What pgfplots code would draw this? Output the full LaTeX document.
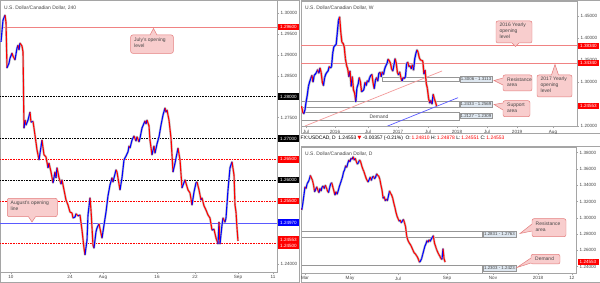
\documentclass[border=0pt]{standalone}
\usepackage{fontspec}
\setmainfont{Liberation Sans}
\newfontfamily\dejavu{DejaVu Sans}
\usepackage{pgfplots}
\usepackage{pgfplotstable}
\pgfplotsset{compat=1.18}
\definecolor{bull}{RGB}{0,0,255}
\definecolor{bear}{RGB}{255,0,0}
\definecolor{frm}{RGB}{165,165,165}
\definecolor{lvlred}{RGB}{240,130,130}
\definecolor{lvlblue}{RGB}{90,90,255}
\definecolor{callfill}{RGB}{248,205,205}
\definecolor{calldraw}{RGB}{228,125,125}
\definecolor{zonefill}{RGB}{222,231,240}
\definecolor{zonedraw}{RGB}{150,150,150}
\definecolor{txt}{RGB}{70,70,70}
\definecolor{wick}{RGB}{200,200,200}

% 240 (4-hour) closes: x = bar position, y = price, c = 1 falling / 0 rising
\pgfplotstableread[row sep=\\]{
x y c\\
1 1.2931 0\\ 3 1.2983 0\\ 5 1.2995 1\\ 6 1.2978 1\\ 7 1.2869 0\\ 9 1.2880 0\\ 10 1.2892 0\\ 12 1.2904 1\\ 13 1.2897 1\\ 15 1.2888 0\\
17 1.2916 0\\ 18 1.2923 1\\ 19 1.2912 0\\ 20 1.2928 1\\ 22 1.2921 1\\ 23 1.2907 1\\ 24 1.2725 0\\ 25 1.2744 1\\ 26 1.2732 0\\ 28 1.2744 0\\
30 1.2763 1\\ 31 1.2739 0\\ 33 1.2741 1\\ 35 1.2708 1\\ 37 1.2673 1\\ 39 1.2649 0\\ 42 1.2696 1\\ 44 1.2661 1\\ 46 1.2656 1\\ 48 1.2630 0\\
49 1.2641 1\\ 51 1.2620 1\\ 53 1.2594 0\\ 55 1.2620 1\\ 56 1.2606 0\\ 57 1.2630 1\\ 59 1.2606 1\\ 61 1.2591 0\\ 62 1.2601 1\\ 64 1.2577 1\\
66 1.2553 1\\ 68 1.2541 1\\ 70 1.2524 1\\ 72 1.2522 1\\ 73 1.2510 0\\ 75 1.2512 0\\ 76 1.2520 1\\ 78 1.2515 0\\ 80 1.2517 1\\ 82 1.2481 1\\
84 1.2438 1\\ 85 1.2422 0\\ 87 1.2457 0\\ 88 1.2517 0\\ 90 1.2558 1\\ 91 1.2529 1\\ 93 1.2445 1\\ 94 1.2438 0\\ 96 1.2477 0\\ 97 1.2486 0\\
99 1.2496 1\\ 102 1.2462 0\\ 104 1.2493 0\\ 106 1.2524 0\\ 108 1.2563 0\\ 110 1.2589 0\\ 112 1.2606 1\\ 113 1.2596 0\\ 116 1.2625 1\\ 117 1.2620 1\\
120 1.2577 0\\ 122 1.2606 0\\ 124 1.2649 0\\ 126 1.2658 0\\ 128 1.2668 0\\ 129 1.2682 1\\ 130 1.2677 0\\ 132 1.2696 0\\ 134 1.2706 1\\ 136 1.2694 0\\
137 1.2704 1\\ 139 1.2692 0\\ 140 1.2701 0\\ 142 1.2725 0\\ 145 1.2742 1\\ 146 1.2735 0\\ 147 1.2744 1\\ 149 1.2730 1\\ 150 1.2696 1\\ 152 1.2661 0\\
154 1.2682 1\\ 155 1.2665 0\\ 157 1.2687 0\\ 159 1.2704 0\\ 161 1.2732 0\\ 163 1.2756 0\\ 165 1.2773 1\\ 166 1.2763 0\\ 167 1.2768 1\\ 169 1.2744 1\\
171 1.2701 1\\ 173 1.2620 0\\ 175 1.2641 0\\ 178 1.2677 1\\ 180 1.2649 1\\ 182 1.2582 0\\ 185 1.2601 1\\ 188 1.2577 1\\ 190 1.2570 1\\ 192 1.2541 0\\
194 1.2572 0\\ 196 1.2594 0\\ 197 1.2596 1\\ 199 1.2577 1\\ 201 1.2553 0\\ 202 1.2558 1\\ 204 1.2539 1\\ 206 1.2529 1\\ 208 1.2517 1\\ 210 1.2510 1\\
212 1.2481 0\\ 214 1.2483 1\\ 216 1.2462 1\\ 218 1.2448 0\\ 219 1.2500 1\\ 220 1.2448 0\\ 222 1.2493 0\\ 223 1.2510 1\\ 225 1.2500 0\\ 226 1.2510 0\\
228 1.2577 0\\ 230 1.2630 0\\ 232 1.2644 1\\ 234 1.2613 1\\ 235 1.2541 1\\ 236 1.2524 1\\ 237 1.2486 1\\ 238 1.2455 1\\
}\lefttab

% weekly closes: x = week number from June 2015
\pgfplotstableread[row sep=\\]{
x y c\\
0 1.245 1\\ 1 1.232 1\\ 2 1.228 0\\ 3 1.237 0\\ 4 1.255 0\\ 5 1.270 0\\ 6 1.290 0\\ 7 1.300 0\\ 8 1.308 0\\ 9 1.315 1\\
10 1.300 0\\ 11 1.315 0\\ 12 1.318 0\\ 13 1.322 0\\ 14 1.328 1\\ 15 1.320 0\\ 16 1.332 1\\ 17 1.322 1\\ 18 1.300 1\\ 19 1.292 0\\
20 1.310 0\\ 21 1.318 0\\ 22 1.322 0\\ 23 1.325 0\\ 24 1.335 1\\ 25 1.332 0\\ 26 1.335 0\\ 27 1.365 0\\ 28 1.380 0\\ 29 1.383 0\\
30 1.385 0\\ 31 1.412 0\\ 32 1.440 0\\ 33 1.448 1\\ 34 1.413 1\\ 35 1.390 1\\ 36 1.388 1\\ 37 1.380 1\\ 38 1.353 1\\ 39 1.338 1\\
40 1.330 1\\ 41 1.312 0\\ 42 1.325 1\\ 43 1.290 0\\ 44 1.312 1\\ 45 1.282 1\\ 46 1.275 1\\ 47 1.255 0\\ 48 1.287 0\\ 49 1.295 0\\
50 1.310 1\\ 51 1.300 1\\ 52 1.278 0\\ 53 1.280 0\\ 54 1.283 0\\ 55 1.299 1\\ 56 1.292 0\\ 57 1.303 1\\ 58 1.300 0\\ 59 1.310 0\\
60 1.315 0\\ 61 1.317 1\\ 62 1.297 1\\ 63 1.285 0\\ 64 1.304 0\\ 65 1.310 1\\ 66 1.302 0\\ 67 1.320 0\\ 68 1.322 1\\ 69 1.312 0\\
70 1.323 1\\ 71 1.317 0\\ 72 1.330 0\\ 73 1.337 0\\ 74 1.342 0\\ 75 1.352 1\\ 76 1.348 1\\ 77 1.343 1\\ 78 1.330 1\\ 79 1.325 0\\
80 1.338 0\\ 81 1.353 1\\ 82 1.343 1\\ 83 1.322 1\\ 84 1.316 0\\ 85 1.323 1\\ 86 1.310 1\\ 87 1.302 0\\ 88 1.310 1\\ 89 1.308 0\\
90 1.312 0\\ 91 1.342 0\\ 92 1.345 1\\ 93 1.335 0\\ 94 1.337 1\\ 95 1.330 0\\ 96 1.339 1\\ 97 1.327 0\\ 98 1.352 0\\ 99 1.365 0\\
100 1.373 1\\ 101 1.367 1\\ 102 1.355 1\\ 103 1.350 1\\ 104 1.349 1\\ 105 1.348 1\\ 106 1.318 0\\ 107 1.327 1\\ 108 1.297 1\\ 109 1.285 1\\
110 1.263 1\\ 111 1.252 0\\ 112 1.258 1\\ 113 1.250 0\\ 114 1.272 1\\ 115 1.262 1\\ 116 1.254 1\\ 117 1.2455 1\\
}\weektab

% daily closes: x = trading day from 1 March 2017
\pgfplotstableread[row sep=\\]{
x y c\\
-4 1.312 1\\ -3 1.310 0\\ -2 1.318 0\\ -1 1.328 0\\ 0 1.338 1\\ 1 1.336 0\\ 2 1.342 0\\ 3 1.344 0\\ 4 1.347 0\\ 5 1.352 1\\
6 1.349 1\\ 7 1.346 1\\ 8 1.340 1\\ 9 1.332 0\\ 10 1.335 0\\ 11 1.338 1\\ 12 1.334 1\\ 13 1.331 0\\ 14 1.336 1\\ 15 1.333 0\\
16 1.338 0\\ 17 1.339 1\\ 18 1.336 0\\ 19 1.340 1\\ 20 1.337 1\\ 21 1.333 1\\ 22 1.331 0\\ 23 1.337 0\\ 24 1.342 0\\ 25 1.343 1\\
26 1.338 1\\ 27 1.333 1\\ 28 1.328 0\\ 29 1.332 1\\ 30 1.329 0\\ 31 1.333 0\\ 32 1.338 0\\ 33 1.342 0\\ 34 1.346 0\\ 35 1.350 0\\
36 1.356 0\\ 37 1.359 0\\ 38 1.364 1\\ 39 1.362 0\\ 40 1.367 0\\ 41 1.371 1\\ 42 1.369 0\\ 43 1.373 1\\ 44 1.372 0\\ 45 1.375 1\\
46 1.371 0\\ 47 1.373 1\\ 48 1.369 1\\ 49 1.366 0\\ 50 1.368 0\\ 51 1.371 1\\ 52 1.369 1\\ 53 1.364 1\\ 54 1.360 1\\ 55 1.357 1\\
56 1.353 1\\ 57 1.349 1\\ 58 1.346 1\\ 59 1.344 0\\ 60 1.347 0\\ 61 1.350 1\\ 62 1.346 0\\ 63 1.350 0\\ 64 1.351 1\\ 65 1.348 0\\
66 1.350 0\\ 67 1.354 1\\ 68 1.352 1\\ 69 1.351 1\\ 70 1.347 1\\ 71 1.340 1\\ 72 1.334 1\\ 73 1.324 0\\ 74 1.326 1\\ 75 1.321 0\\
76 1.323 1\\ 77 1.321 0\\ 78 1.327 0\\ 79 1.333 1\\ 80 1.330 1\\ 81 1.328 1\\ 82 1.324 1\\ 83 1.318 1\\ 84 1.313 1\\ 85 1.307 1\\
86 1.302 1\\ 87 1.299 1\\ 88 1.296 0\\ 89 1.297 1\\ 90 1.294 0\\ 91 1.296 0\\ 92 1.298 1\\ 93 1.294 1\\ 94 1.289 1\\ 95 1.278 1\\
96 1.273 1\\ 97 1.270 1\\ 98 1.268 1\\ 99 1.266 1\\ 100 1.263 1\\ 101 1.260 1\\ 102 1.257 1\\ 103 1.256 1\\ 104 1.254 1\\ 105 1.252 1\\
106 1.249 1\\ 107 1.2455 0\\ 108 1.247 0\\ 109 1.250 0\\ 110 1.255 0\\ 111 1.260 0\\ 112 1.265 0\\ 113 1.268 0\\ 114 1.272 1\\ 115 1.270 0\\
116 1.273 1\\ 117 1.271 0\\ 118 1.274 0\\ 119 1.276 0\\ 120 1.278 1\\ 121 1.269 1\\ 122 1.265 1\\ 123 1.261 1\\ 124 1.258 1\\ 125 1.255 1\\
126 1.253 1\\ 127 1.250 1\\ 128 1.249 0\\ 129 1.262 1\\ 130 1.2495 1\\ 131 1.2455 1\\
}\daytab

\pgfplotsset{
  chart/.style={
    scale only axis, anchor=south west,
    axis line style={frm, line width=0.5pt},
    tick style={frm, line width=0.4pt},
    tick align=outside, major tick length=2bp,
    xtick pos=left, ytick pos=right, yticklabel pos=right,
    ticklabel style={font=\fontsize{4.6}{5}\selectfont, text=txt},
    xticklabel style={inner sep=1.5bp},
    yticklabel style={inner sep=1.5bp},
    /pgf/number format/fixed, /pgf/number format/fixed zerofill,
    /pgf/number format/precision=5, /pgf/number format/assume math mode=true,
    scaled y ticks=false,
    point meta min=0, point meta max=1,
    colormap={br}{color(0cm)=(bull); color(1cm)=(bear)},
  },
  candles/.style={mesh, shader=flat corner, point meta=\thisrow{c}, line width=1.1pt},
  halo/.style={wick, line width=2.3pt, line join=round},
  lvldot/.style={line width=0.6pt, dash pattern=on 0.8bp off 0.8bp},
}
\tikzset{
  px/.style={x=1bp, y=-1bp, shift={(0bp,283bp)}},
  lbl/.style={inner sep=0pt, minimum height=6.4bp, text=white, font=\fontsize{4.6}{5}\selectfont},
  zlbl/.style={fill=zonefill, draw=zonedraw, line width=0.3pt, inner sep=0pt, minimum height=5.6bp, text=txt, font=\fontsize{4.4}{5}\selectfont},
  ctext/.style={inner sep=0pt, align=left, text=txt, font=\fontsize{5}{6}\selectfont},
  cbox/.style={fill=callfill, draw=calldraw, line width=0.5pt, rounded corners=2bp},
}
\begin{document}
\begin{tikzpicture}
\useasboundingbox (0,0) rectangle (600bp,283bp);
\fill[white] (0,0) rectangle (600bp,283bp);
% ---------- frames, zones and trendlines (behind the candles)
\begin{scope}[px]
\draw[frm, line width=0.5pt] (0.25,0.25) rectangle (299,282.75);
\draw[frm, line width=0.5pt] (301,0.25) rectangle (599.75,133);
\draw[frm, line width=0.5pt] (301,146) rectangle (599.75,282.75);
\begin{scope}
\clip (301,1) rectangle (577,126.5);
\draw[zonedraw, line width=0.5pt] (382,77) rectangle (459,81.7);
\draw[zonedraw, line width=0.5pt] (300,100.9) rectangle (459,106.9);
\draw[zonedraw, line width=0.5pt] (300,112.4) rectangle (459,120.4);
\draw[lvlred!80, line width=0.7pt] (305,126) -- (442,71);
\draw[lvlblue, line width=0.7pt] (386,126.7) -- (458,97.7);
\end{scope}
\node[ctext, anchor=center] at (379,116.5) {Demand};
\begin{scope}
\clip (301,147) rectangle (576,273);
\draw[zonedraw, line width=0.5pt] (300,231.6) rectangle (482,237.2);
\draw[zonedraw, line width=0.5pt] (300,264.8) rectangle (482,276);
\end{scope}
\end{scope}

% ---------- left: 240 chart
\begin{axis}[chart, at={(0bp,11bp)}, width=277bp, height=272bp,
  xmin=0, xmax=277, ymin=1.23808, ymax=1.30311,
  xtick={11,70,103,157,195,238,273}, xticklabels={10,24,Aug,16,22,Sep,11},
  ytick={1.240,1.245,1.250,1.255,1.260,1.265,1.270,1.275,1.280,1.285,1.290,1.295,1.300}]
\addplot[lvlred, line width=0.6pt] coordinates {(0,1.2966) (277,1.2966)};
\addplot[black, lvldot] coordinates {(0,1.2800) (277,1.2800)};
\addplot[black, lvldot] coordinates {(0,1.2700) (277,1.2700)};
\addplot[bear, lvldot] coordinates {(0,1.2650) (277,1.2650)};
\addplot[black, lvldot] coordinates {(0,1.2600) (277,1.2600)};
\addplot[bear, lvldot] coordinates {(0,1.2550) (277,1.2550)};
\addplot[lvlblue, line width=0.6pt] coordinates {(0,1.2498) (277,1.2498)};
\addplot[bear, lvldot] coordinates {(0,1.2450) (277,1.2450)};
\addplot[halo] table[x=x, y=y] {\lefttab};
\addplot[candles] table[x=x, y=y] {\lefttab};
\end{axis}

% ---------- top right: weekly chart
\begin{axis}[chart, at={(301bp,156.5bp)}, width=276bp, height=125.5bp,
  xmin=-0.43, xmax=238.5, ymin=1.1989, ymax=1.4841,
  xtick={3.9,29,57.6,83.5,109.5,134.6,160.6,186.6,217.7},
  xticklabels={Jul,2016,Jul,2017,Jul,2018,Jul,2019,Aug},
  ytick={1.20,1.30,1.35,1.40,1.45},
  candles/.append style={line width=1.2pt}]
\addplot[lvlred, line width=0.7pt] coordinates {(-0.43,1.3834) (238.5,1.3834)};
\addplot[lvlred, line width=0.7pt] coordinates {(-0.43,1.3434) (238.5,1.3434)};
\addplot[halo, line width=2.5pt] table[x=x, y=y] {\weektab};
\addplot[candles] table[x=x, y=y] {\weektab};
\end{axis}

% ---------- bottom right: daily chart
\begin{axis}[chart, at={(301bp,10bp)}, width=275bp, height=126bp,
  xmin=-3.74, xmax=253.3, ymin=1.23221, ymax=1.38700,
  xtick={0,42.1,86.9,132.7,175.7,217.8,249.5},
  xticklabels={Mar,May,Jul,Sep,Nov,2018,12},
  ytick={1.24,1.26,1.28,1.30,1.32,1.34,1.36,1.38}]
\addplot[halo] table[x=x, y=y] {\daytab};
\addplot[candles] table[x=x, y=y] {\daytab};
\end{axis}

% ---------- labels, callouts, titles
\begin{scope}[px]
% left price boxes
\node[lbl, fill=bear, minimum width=21bp] at (288.5,27) {1.29600};
\node[lbl, fill=black, minimum width=21bp] at (288.5,96.7) {1.28000};
\node[lbl, fill=black, minimum width=21bp] at (288.5,138.5) {1.27000};
\node[lbl, fill=bear, minimum width=21bp] at (288.5,159.4) {1.26500};
\node[lbl, fill=black, minimum width=21bp] at (288.5,180.3) {1.26000};
\node[lbl, fill=bear, minimum width=21bp] at (288.5,201.2) {1.25500};
\node[lbl, fill=bull, minimum width=21bp] at (288.5,222.7) {1.24970};
\node[lbl, fill=bear, minimum width=21bp] at (288.5,239.6) {1.24553};
\node[lbl, fill=bear, minimum width=21bp] at (288.5,246.2) {1.24500};
% top right price boxes
\node[lbl, fill=bear, minimum width=21bp] at (588.5,45.8) {1.38340};
\node[lbl, fill=bear, minimum width=21bp] at (588.5,63) {1.34340};
\node[lbl, fill=bear, minimum width=21bp] at (588.5,106) {1.24553};
% bottom right price box
\node[lbl, fill=bear, minimum width=21bp] at (588,262) {1.24553};
% zone labels
\node[zlbl, minimum width=32bp] at (476,79.4) {1.3006 - 1.3113};
\node[zlbl, minimum width=32bp] at (476,103.9) {1.2433 - 1.2569};
\node[zlbl, minimum width=32bp] at (476,115.8) {1.2127 - 1.2309};
\node[zlbl, minimum width=33bp] at (499.5,234.4) {1.2831 - 1.2763};
\node[zlbl, minimum width=33bp] at (499.5,268) {1.2303 - 1.2423};
% callout: July
\draw[cbox] (130.7,35) rectangle (173.3,53.3);
\fill[callfill] (150,35) -- (153.5,28.5) -- (157,35) -- (157,36) -- (150,36) -- cycle;
\draw[calldraw, line width=0.5pt] (150,35) -- (153.5,28.5) -- (157,35);
\node[ctext, anchor=north west] at (134,37.5) {July's opening\\level};
% callout: August
\draw[cbox] (7.3,198.3) rectangle (57.3,216.7);
\fill[callfill] (28.5,216.7) -- (32,222) -- (35.5,216.7) -- (35.5,215.7) -- (28.5,215.7) -- cycle;
\draw[calldraw, line width=0.5pt] (28.5,216.7) -- (32,222) -- (35.5,216.7);
\node[ctext, anchor=north west] at (10.5,200.5) {August's opening\\line};
% callout: 2016 yearly
\draw[cbox] (496,21) rectangle (532,43);
\fill[callfill] (512,43) -- (515.5,46.5) -- (519,43) -- (519,42) -- (512,42) -- cycle;
\draw[calldraw, line width=0.5pt] (512,43) -- (515.5,46.5) -- (519,43);
\node[ctext, anchor=north west] at (499.5,23) {2016 Yearly\\opening\\level};
% callout: 2017 yearly
\draw[cbox] (537,75) rectangle (572,97);
\fill[callfill] (551.5,75) -- (555,64.5) -- (558.5,75) -- (558.5,76) -- (551.5,76) -- cycle;
\draw[calldraw, line width=0.5pt] (551.5,75) -- (555,64.5) -- (558.5,75);
\node[ctext, anchor=north west] at (540.5,77) {2017 Yearly\\opening\\level};
% callout: resistance (weekly)
\draw[cbox] (503,75) rectangle (532,91);
\fill[callfill] (503,78) -- (494,80.5) -- (503,85) -- (504,85) -- (504,78) -- cycle;
\draw[calldraw, line width=0.5pt] (503,78) -- (494,80.5) -- (503,85);
\node[ctext, anchor=north west] at (507,77.2) {Resistance\\area};
% callout: support (weekly)
\draw[cbox] (503,100.7) rectangle (530,116.7);
\fill[callfill] (503,103) -- (494,104.5) -- (503,110) -- (504,110) -- (504,103) -- cycle;
\draw[calldraw, line width=0.5pt] (503,103) -- (494,104.5) -- (503,110);
\node[ctext, anchor=north west] at (507,102.9) {Support\\area};
% callout: resistance (daily)
\draw[cbox] (532,218.7) rectangle (566,236.7);
\fill[callfill] (532,224) -- (520,233.5) -- (532,231) -- (533,231) -- (533,224) -- cycle;
\draw[calldraw, line width=0.5pt] (532,224) -- (520,233.5) -- (532,231);
\node[ctext, anchor=north west] at (535.5,221.3) {Resistance\\area};
% callout: demand (daily)
\draw[cbox] (531,254.3) rectangle (560,264);
\fill[callfill] (531,258) -- (517,267.5) -- (531,263) -- (532,263) -- (532,258) -- cycle;
\draw[calldraw, line width=0.5pt] (531,258) -- (517,267.5) -- (531,263);
\node[ctext, anchor=west] at (535,259.2) {Demand};
% titles
\node[ctext, anchor=west] at (4,8) {U.S. Dollar/Canadian Dollar, 240};
\node[ctext, anchor=west] at (305,8) {U.S. Dollar/Canadian Dollar, W};
\node[ctext, anchor=west] at (305,154) {U.S. Dollar/Canadian Dollar, D};
\node[inner sep=0pt, anchor=west, text=black, font=\fontsize{5}{6}\selectfont] at (300.5,138.5)
  {FX:USDCAD, D\enspace 1.24553 {\dejavu\textcolor{bear}{▼}} -0.00357 (-0.21\%)\enspace O:\,\textcolor{bear}{1.24810} H:\,\textcolor{bear}{1.24878} L:\,\textcolor{bear}{1.24551} C:\,\textcolor{bear}{1.24553}};
\end{scope}
\end{tikzpicture}
\end{document}
